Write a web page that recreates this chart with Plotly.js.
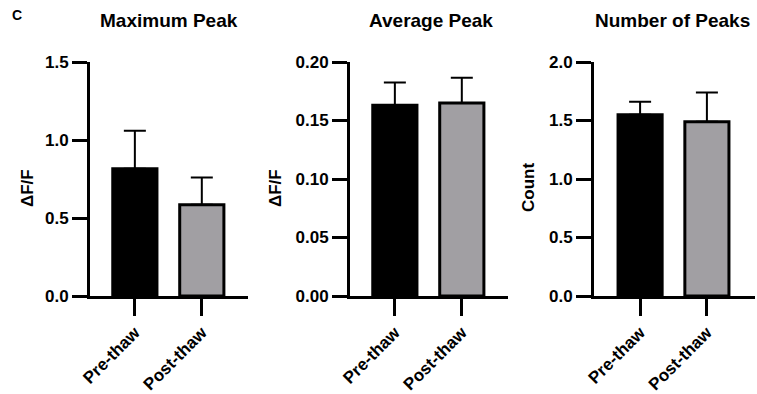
<!DOCTYPE html>
<html>
<head>
<meta charset="utf-8">
<script src="https://cdn.plot.ly/plotly-3.0.1.min.js"></script>
<style>html,body{margin:0;padding:0;background:#fff;}#chart{width:757px;height:394px;}</style>
</head>
<body>
<div id="chart"></div>
<script>
// Data
const categories = ["Pre-thaw", "Post-thaw"];
const panelTitles = ["Maximum Peak", "Average Peak", "Number of Peaks"];
const yTitles = ["ΔF/F", "ΔF/F", "Count"];
const maxPeak = [0.815, 0.585];
const maxPeakErr = [0.245, 0.175];
const avgPeak = [0.163, 0.165];
const avgPeakErr = [0.0195, 0.0215];
const numPeaks = [1.55, 1.49];
const numPeaksErr = [0.11, 0.25];
const yRanges = [[0, 1.5], [0, 0.2], [0, 2.0]];
const yTickVals = [[0, 0.5, 1.0, 1.5], [0, 0.05, 0.10, 0.15, 0.20], [0, 0.5, 1.0, 1.5, 2.0]];
const yTickText = [["0.0", "0.5", "1.0", "1.5"], ["0.00", "0.05", "0.10", "0.15", "0.20"], ["0.0", "0.5", "1.0", "1.5", "2.0"]];

const W = 757, H = 394;
const FONT = "Liberation Sans, Arial, sans-serif";
const barColors = ["#000000", "#a19fa3"];

const series = [[maxPeak, maxPeakErr], [avgPeak, avgPeakErr], [numPeaks, numPeaksErr]];
const px = [[90, 248], [350, 508], [594, 755]];
const xRanges = [[-0.67, 1.69], [-0.67, 1.69], [-0.69, 1.72]];

const traces = [];
const layout = {
  width: W, height: H,
  margin: {l: 0, r: 0, t: 0, b: 0},
  paper_bgcolor: "#fff", plot_bgcolor: "#fff",
  showlegend: false,
  font: {family: FONT, color: "#000", weight: "bold"},
  annotations: [
    {text: "C", x: 10 / W, y: 1 - 15 / H, xref: "paper", yref: "paper", xanchor: "left", yanchor: "middle",
     showarrow: false, font: {size: 14, family: FONT, weight: "bold", color: "#000"}}
  ]
};

const yTitleX = [27, 275, 528];
const titleX = [169, 431, 672];

series.forEach((s, i) => {
  const xa = i === 0 ? "x" : "x" + (i + 1);
  const ya = i === 0 ? "y" : "y" + (i + 1);
  traces.push({
    type: "bar",
    x: categories, y: s[0],
    xaxis: xa, yaxis: ya,
    marker: {color: barColors, line: {color: "#000", width: 3}},
    error_y: {type: "data", array: s[1], symmetric: false, arrayminus: [0, 0], color: "#000", thickness: 2, width: 11},
    width: 0.66,
    hoverinfo: "none"
  });
  const xk = i === 0 ? "xaxis" : "xaxis" + (i + 1);
  const yk = i === 0 ? "yaxis" : "yaxis" + (i + 1);
  layout[xk] = {
    domain: [px[i][0] / W, px[i][1] / W],
    anchor: ya,
    range: xRanges[i],
    showline: true, linewidth: 3, linecolor: "#000",
    ticks: "outside", ticklen: 17, tickwidth: 3, tickcolor: "#000",
    tickangle: -45,
    tickfont: {size: 17, family: FONT, weight: "bold", color: "#000"},
    showgrid: false, zeroline: false, fixedrange: true
  };
  layout[yk] = {
    domain: [(H - 296) / H, (H - 62) / H],
    anchor: xa,
    range: yRanges[i],
    tickvals: yTickVals[i], ticktext: yTickText[i],
    showline: true, linewidth: 3, linecolor: "#000",
    ticks: "outside", ticklen: 15, tickwidth: 3, tickcolor: "#000",
    tickfont: {size: 17, family: FONT, weight: "bold", color: "#000"},
    showgrid: false, zeroline: false, fixedrange: true,
    title: {text: ""}
  };
  layout.annotations.push({
    text: yTitles[i], x: yTitleX[i] / W, y: 1 - 188 / H, xref: "paper", yref: "paper",
    xanchor: "center", yanchor: "middle", textangle: -90, showarrow: false,
    font: {size: 17, family: FONT, weight: "bold", color: "#000"}
  });
  layout.annotations.push({
    text: panelTitles[i], x: titleX[i] / W, y: 1 - 20 / H, xref: "paper", yref: "paper",
    xanchor: "center", yanchor: "middle", showarrow: false,
    font: {size: 19, family: FONT, weight: "bold", color: "#000"}
  });
});

Plotly.newPlot("chart", traces, layout, {staticPlot: true, displayModeBar: false});
</script>
</body>
</html>
